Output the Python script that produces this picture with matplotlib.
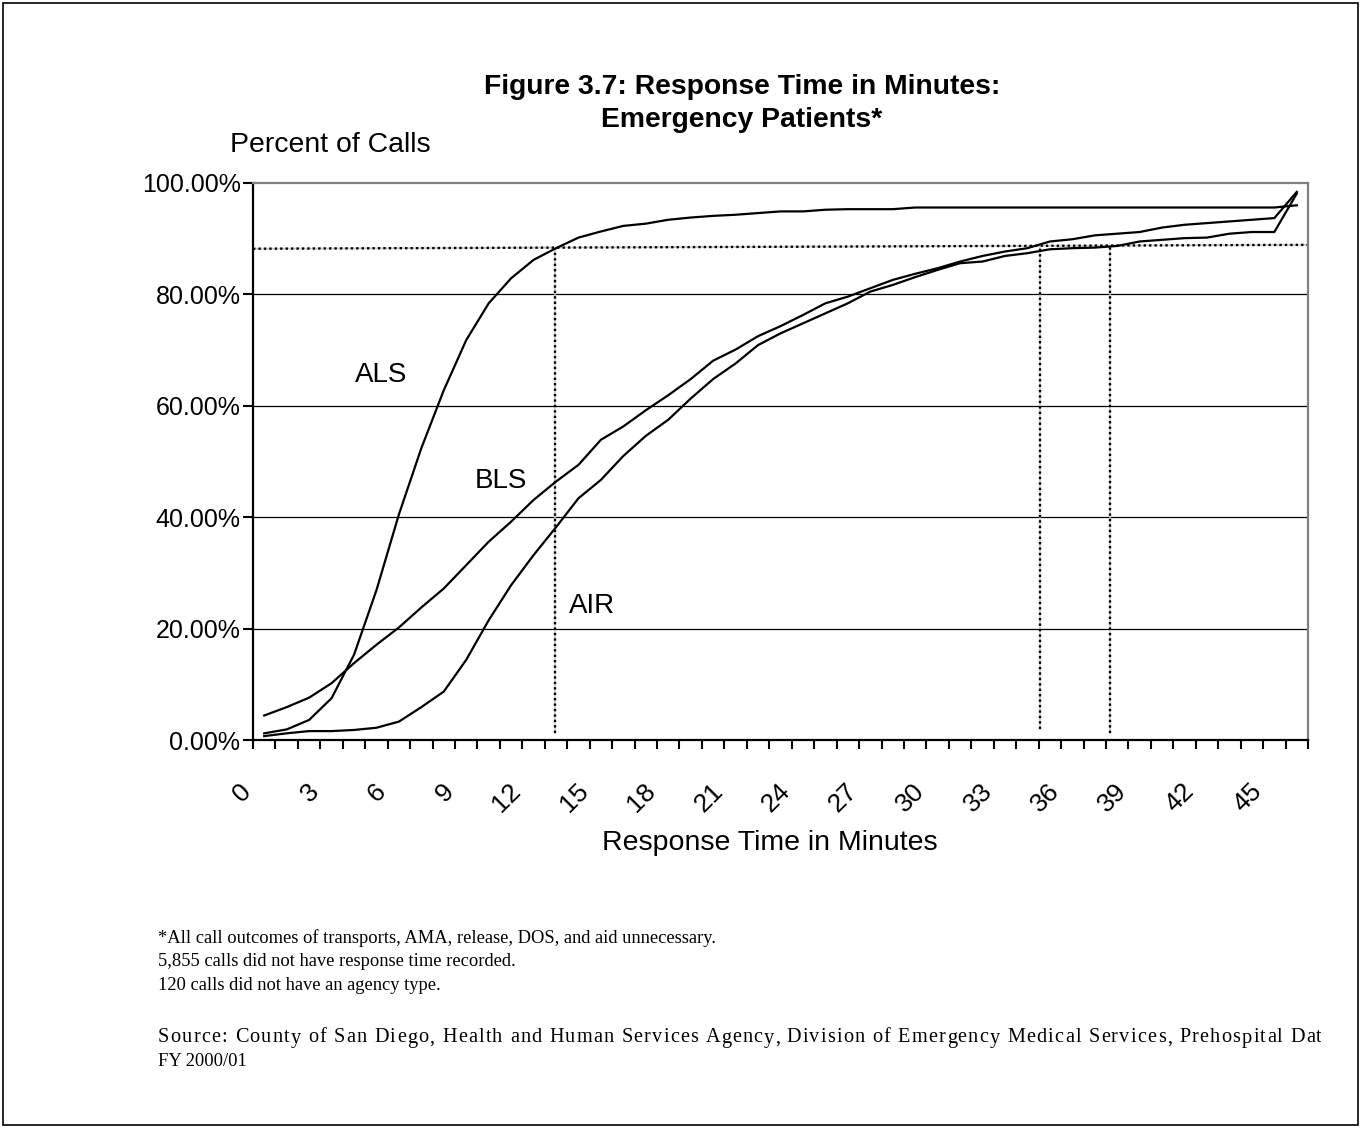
import matplotlib
matplotlib.use("Agg")
import matplotlib.pyplot as plt
from matplotlib.ticker import PercentFormatter, FixedLocator
from matplotlib.transforms import ScaledTranslation, Bbox
from matplotlib.patches import Rectangle

# response time categories (minutes)
minutes = list(range(47))
tick_minutes = list(range(0, 46, 3))

# cumulative percent of calls
als = [1.2, 1.9, 3.6, 7.5, 15.3, 26.9, 40.5, 52.4, 62.8, 71.8, 78.4, 82.9, 86.2, 88.3,
       90.2, 91.3, 92.3, 92.7, 93.4, 93.8, 94.1, 94.3, 94.6, 94.9, 94.9, 95.2, 95.3,
       95.3, 95.3, 95.6, 95.6, 95.6, 95.6, 95.6, 95.6, 95.6, 95.6, 95.6, 95.6, 95.6,
       95.6, 95.6, 95.6, 95.6, 95.6, 95.6, 96.0]
bls = [4.4, 5.9, 7.6, 10.2, 13.8, 17.1, 20.2, 23.8, 27.2, 31.4, 35.6, 39.2, 43.1, 46.4,
       49.4, 53.9, 56.3, 59.2, 61.9, 64.8, 68.1, 70.1, 72.5, 74.3, 76.3, 78.4, 79.6,
       81.1, 82.6, 83.7, 84.7, 85.9, 86.9, 87.7, 88.3, 89.5, 89.9, 90.6, 90.9, 91.2,
       92.0, 92.5, 92.8, 93.1, 93.4, 93.7, 98.4]
air = [0.7, 1.2, 1.6, 1.6, 1.8, 2.2, 3.3, 5.9, 8.7, 14.4, 21.5, 27.8, 33.2, 38.2,
       43.4, 46.7, 51.0, 54.6, 57.5, 61.3, 64.8, 67.6, 70.9, 73.0, 74.8, 76.6, 78.4,
       80.5, 81.7, 83.1, 84.4, 85.6, 85.9, 86.9, 87.4, 88.1, 88.3, 88.4, 88.7, 89.5,
       89.8, 90.1, 90.2, 90.9, 91.2, 91.2, 98.1]

# hand drawn 90th percentile guide lines
guide_level = [88.2, 88.9]
guide_minutes = [12.95, 34.55, 37.67]
guide_bottom = [1.2, 2.0, 1.2]

notes = ['*All call outcomes of transports, AMA, release, DOS, and aid unnecessary.',
         '5,855 calls did not have response time recorded.',
         '120 calls did not have an agency type.']
source = ('Source: County of San Diego, Health and Human Services Agency, '
          'Division of Emergency Medical Services, Prehospital Data')

plt.rcParams['font.family'] = ['Liberation Sans', 'DejaVu Sans']

W, H = 1361, 1128
fig = plt.figure(figsize=(W / 100, H / 100), dpi=100)
ax = fig.add_axes([253 / W, 388 / H, 1055 / W, 557 / H])

for v in [20, 40, 60, 80]:
    ax.axhline(v, color='black', lw=0.9, zorder=1)

# dotted guides: grey underlay + black dots
ax.plot([-0.5, 46.5], guide_level, color='#c8c8c8', lw=1.2, zorder=2)
ax.plot([-0.5, 46.5], guide_level, color='black', lw=1.7, ls=(0, (1, 1.3)), zorder=2)
for gx, gb in zip(guide_minutes, guide_bottom):
    top = guide_level[0] + (guide_level[1] - guide_level[0]) * (gx + 0.5) / 47
    ax.plot([gx, gx], [gb, top], color='#c8c8c8', lw=1.2, zorder=2)
    ax.plot([gx, gx], [gb, top], color='black', lw=1.7, ls=(0, (1, 1.3)), zorder=2)

for series in [als, bls, air]:
    ax.plot(minutes, series, color='black', lw=1.6, zorder=3)

ax.text(5.2, 65.5, 'ALS', fontsize=20, ha='center', va='center')
ax.text(10.55, 46.5, 'BLS', fontsize=20, ha='center', va='center')
ax.text(14.6, 24.1, 'AIR', fontsize=20, ha='center', va='center')

ax.set_xlim(-0.5, 46.5)
ax.set_ylim(0, 100)
ax.set_yticks([0, 20, 40, 60, 80, 100])
ax.yaxis.set_major_formatter(PercentFormatter(100, decimals=2))
ax.tick_params(axis='y', direction='out', length=7, width=1.5, pad=2, labelsize=18)

ax.set_xticks(tick_minutes)
ax.set_xticklabels([str(m) for m in tick_minutes])
ax.xaxis.set_minor_locator(FixedLocator([m - 0.5 for m in range(48)]))
ax.tick_params(axis='x', which='major', length=0, pad=28, labelsize=19)
ax.tick_params(axis='x', which='minor', direction='out', length=6.5, width=1.5)
shift = ScaledTranslation(-8 / 100, 0, fig.dpi_scale_trans)
for lab in ax.get_xticklabels():
    lab.set_rotation(45)
    lab.set_ha('right')
    lab.set_va('top')
    lab.set_transform(lab.get_transform() + shift)

for side in ['left', 'bottom']:
    ax.spines[side].set_linewidth(1.6)
    ax.spines[side].set_color('black')
for side in ['top', 'right']:
    ax.spines[side].set_linewidth(1.6)
    ax.spines[side].set_color('#808080')

ax.set_xlabel('Response Time in Minutes', fontsize=20.5, va='center')
ax.xaxis.set_label_coords((770 - 253) / 1055, (740 - 843) / 557)

fig.text(742 / W, 1 - 87 / H, 'Figure 3.7: Response Time in Minutes:',
         fontsize=20.3, fontweight='bold', ha='center', va='center')
fig.text(742 / W, 1 - 120 / H, 'Emergency Patients*',
         fontsize=20.3, fontweight='bold', ha='center', va='center')
fig.text(230 / W, 1 - 145 / H, 'Percent of Calls', fontsize=20.4,
         ha='left', va='center')

note_font = dict(fontsize=13.3, family='Liberation Serif', ha='left', va='center')
for t, y in zip(notes, [938, 962, 986]):
    fig.text(158 / W, 1 - y / H, t, **note_font)

# source line runs wider than the notes and is clipped at the text box edge
src_font = dict(note_font, fontsize=14.6)
renderer = fig.canvas.get_renderer()
bar_w = fig.text(0, 0, '|', **src_font)
bw = bar_w.get_window_extent(renderer).width
bar_w.remove()
prefix_w = []
for i in range(len(source) + 1):
    tmp = fig.text(0, 0, source[:i] + '|', **src_font)
    prefix_w.append(tmp.get_window_extent(renderer).width - bw)
    tmp.remove()
track = (1332 - 158 - prefix_w[-1]) / (len(source) - 1)
clip = Bbox.from_extents(0, 0, 1321, H)
for i, ch in enumerate(source):
    if ch == ' ':
        continue
    t = fig.text((158 + prefix_w[i] + i * track) / W, 1 - 1038 / H, ch, **src_font)
    t.set_clip_box(clip)
    t.set_clip_on(True)
fig.text(158 / W, 1 - 1062 / H, 'FY 2000/01', **note_font)

fig.patches.append(Rectangle((3 / W, 3 / H), 1355 / W, 1122 / H,
                             transform=fig.transFigure, fill=False,
                             edgecolor='black', lw=1.2))

fig.savefig('out.png', dpi=100)
